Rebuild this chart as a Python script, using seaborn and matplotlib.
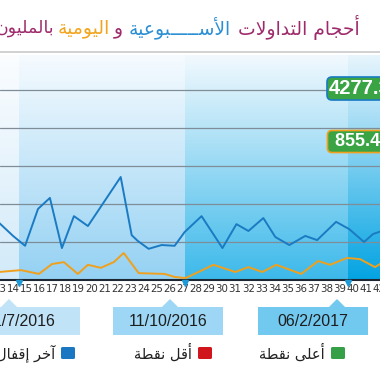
import numpy as np
import pandas as pd
import matplotlib
matplotlib.use("Agg")
import matplotlib.pyplot as plt
from matplotlib.patches import Polygon, FancyBboxPatch
from matplotlib.colors import to_rgb
import seaborn as sns

# week numbers on the x axis
week_ticks = list(range(13, 43))

# weekly trading volume (blue) and daily volume (orange), in week units on x
blue_weeks = [12.85, 14.0, 14.92, 15.91, 16.82, 17.74, 18.66, 19.73, 22.24, 23.08,
              23.54, 24.38, 25.37, 26.37, 27.13, 28.43, 30.03, 31.10, 32.02, 33.16,
              34.08, 35.15, 36.37, 37.28, 38.73, 39.73, 40.87, 41.56, 42.24]
blue_vals = [1530, 1160, 900, 1870, 2160, 840, 1680, 1420, 2710, 1180,
             1030, 820, 920, 900, 1260, 1680, 840, 1470, 1290, 1630,
             1130, 920, 1160, 1050, 1530, 1340, 1000, 1210, 1290]

orange_weeks = [12.9, 14.61, 15.98, 16.98, 17.89, 18.96, 19.73, 20.72, 21.71, 22.47,
                23.62, 25.60, 26.37, 27.21, 29.34, 31.02, 32.02, 33.08, 34.15, 36.06,
                37.36, 38.27, 39.57, 40.56, 41.71, 42.24]
orange_vals = [210, 260, 160, 420, 470, 160, 400, 320, 470, 710,
               180, 160, 80, 50, 400, 210, 340, 210, 400, 160,
               500, 400, 580, 550, 340, 450]

quarter_edges = [13.0, 14.46, 27.13, 39.65, 42.3]
date_labels = ['11/7/2016', '11/10/2016', '06/2/2017']
last_values = ['4277.3', ' 855.41']
legend_labels = ['آخر إقفال', 'أقل نقطة', 'أعلى نقطة']
title_parts = ['أحجام التداولات', 'الأســـــبوعية', 'و', 'اليومية', 'بالمليون']

# --- minimal arabic shaping (matplotlib has no complex text layout) ---
AR_FORMS = {
    '\u0622': ('\uFE81', '\uFE82', None, None),
    '\u0623': ('\uFE83', '\uFE84', None, None),
    '\u0625': ('\uFE87', '\uFE88', None, None),
    '\u0627': ('\uFE8D', '\uFE8E', None, None),
    '\u0628': ('\uFE8F', '\uFE90', '\uFE91', '\uFE92'),
    '\u0629': ('\uFE93', '\uFE94', None, None),
    '\u062A': ('\uFE95', '\uFE96', '\uFE97', '\uFE98'),
    '\u062C': ('\uFE9D', '\uFE9E', '\uFE9F', '\uFEA0'),
    '\u062D': ('\uFEA1', '\uFEA2', '\uFEA3', '\uFEA4'),
    '\u062E': ('\uFEA5', '\uFEA6', '\uFEA7', '\uFEA8'),
    '\u062F': ('\uFEA9', '\uFEAA', None, None),
    '\u0631': ('\uFEAD', '\uFEAE', None, None),
    '\u0633': ('\uFEB1', '\uFEB2', '\uFEB3', '\uFEB4'),
    '\u0637': ('\uFEC1', '\uFEC2', '\uFEC3', '\uFEC4'),
    '\u0639': ('\uFEC9', '\uFECA', '\uFECB', '\uFECC'),
    '\u0641': ('\uFED1', '\uFED2', '\uFED3', '\uFED4'),
    '\u0642': ('\uFED5', '\uFED6', '\uFED7', '\uFED8'),
    '\u0644': ('\uFEDD', '\uFEDE', '\uFEDF', '\uFEE0'),
    '\u0645': ('\uFEE1', '\uFEE2', '\uFEE3', '\uFEE4'),
    '\u0646': ('\uFEE5', '\uFEE6', '\uFEE7', '\uFEE8'),
    '\u0648': ('\uFEED', '\uFEEE', None, None),
    '\u0649': ('\uFEEF', '\uFEF0', None, None),
    '\u064A': ('\uFEF1', '\uFEF2', '\uFEF3', '\uFEF4'),
    '\u0640': ('\u0640', '\u0640', '\u0640', '\u0640'),
}
LAM_ALEF = {'\u0622': ('\uFEF5', '\uFEF6'), '\u0623': ('\uFEF7', '\uFEF8'),
            '\u0625': ('\uFEF9', '\uFEFA'), '\u0627': ('\uFEFB', '\uFEFC')}


def shape_ar(text):
    chars = []
    i = 0
    while i < len(text):
        if text[i] == '\u0644' and i + 1 < len(text) and text[i + 1] in LAM_ALEF:
            chars.append(('LA', text[i + 1]))
            i += 2
        else:
            chars.append(text[i])
            i += 1

    def joins_next(c):
        return not isinstance(c, tuple) and c in AR_FORMS and AR_FORMS[c][2] is not None

    def is_ar(c):
        return isinstance(c, tuple) or c in AR_FORMS

    out = []
    for k, c in enumerate(chars):
        prev = chars[k - 1] if k > 0 else None
        nxt = chars[k + 1] if k + 1 < len(chars) else None
        jp = prev is not None and joins_next(prev)
        if isinstance(c, tuple):
            iso, fin = LAM_ALEF[c[1]]
            out.append(fin if jp else iso)
            continue
        if c not in AR_FORMS:
            out.append(c)
            continue
        iso, fin, ini, med = AR_FORMS[c]
        jn = nxt is not None and is_ar(nxt) and ini is not None
        if jp and jn:
            out.append(med)
        elif jp:
            out.append(fin)
        elif jn:
            out.append(ini)
        else:
            out.append(iso)
    return ''.join(reversed(out))


sns.set_style("white")
plt.rcParams['font.family'] = ['DejaVu Sans']

W, H = 380, 372
fig = plt.figure(figsize=(3.8, 3.72), dpi=100)


def fx(x):
    return x / W


def fy(y):
    return 1 - y / H


ymax = 5920
ax = fig.add_axes([0, fy(280), 1, (280 - 55) / H])
ax.set_xlim(13.084, 42.092)
ax.set_ylim(0, ymax)

# vertical-gradient quarter bands
band_cols = [('#fbfdff', '#d2eaf9'), ('#f6fbff', '#94d1f3'),
             ('#f2f9fe', '#3cb9ea'), ('#e8f5fd', '#02a3e2')]
t = np.linspace(0, 1, 256)[:, None]
for (x0, x1), (ctop, cbot) in zip(zip(quarter_edges[:-1], quarter_edges[1:]), band_cols):
    top, bot = np.array(to_rgb(ctop)), np.array(to_rgb(cbot))
    img = (bot[None, :] * (1 - t) + top[None, :] * t)[:, None, :]
    ax.imshow(img, extent=[x0, x1, 0, ymax], origin='lower', aspect='auto',
              interpolation='bilinear', zorder=0)

for g in range(1000, 6000, 1000):
    ax.axhline(g, color='#7f8d98', lw=0.9, zorder=1)

df_blue = pd.DataFrame({'week': blue_weeks, 'value': blue_vals})
df_orange = pd.DataFrame({'week': orange_weeks, 'value': orange_vals})
sns.lineplot(data=df_blue, x='week', y='value', color='#1a7bc3', lw=1.4,
             estimator=None, ax=ax, zorder=3)
sns.lineplot(data=df_orange, x='week', y='value', color='#f0a01c', lw=1.4,
             estimator=None, ax=ax, zorder=3)

ax.set_xlabel('')
ax.set_ylabel('')
ax.set_yticks([])
ax.set_xticks(week_ticks)
ax.set_xticklabels([str(w) for w in week_ticks], fontsize=7.4, color='#333333',
                   family=['Liberation Sans Narrow', 'DejaVu Sans'])
ax.tick_params(axis='x', length=0, pad=3)
for s in ['top', 'left', 'right']:
    ax.spines[s].set_visible(False)
ax.spines['bottom'].set_color('#1d2733')
ax.spines['bottom'].set_linewidth(1.5)

# small markers at quarter edges below the axis
for e in quarter_edges[1:-1]:
    ax.plot(e, -0.015, marker='v', ms=4, color='#1e9ad6', transform=ax.get_xaxis_transform(),
            clip_on=False, zorder=5)

# last-value badges
badge_font = ['Liberation Sans', 'DejaVu Sans']
fig.text(fx(329), fy(88.5), last_values[0], color='white', fontsize=14.5, fontweight='bold',
         va='center', ha='left', family=badge_font,
         bbox=dict(boxstyle='round,pad=0.1,rounding_size=0.25', fc='#3aa445', ec='#1a7bc3', lw=1.2))
fig.text(fx(330), fy(141.5), last_values[1], color='white', fontsize=13, fontweight='bold',
         va='center', ha='left', family=badge_font,
         bbox=dict(boxstyle='round,pad=0.14,rounding_size=0.25', fc='#3aa445', ec='#f0a01c', lw=1.2))

# title with coloured parts (right-to-left)
fig.add_artist(plt.Line2D([0, 1], [fy(52), fy(52)], color='#c9c9c9', lw=1.2))
title_cols = ['#9e2a6b', '#2b8fd4', '#9e2a6b', '#f2a51f', '#9e2a6b']
title_x = [238, 231, 123, 110, 54]
title_ha = ['left', 'right', 'right', 'right', 'right']
title_sizes = [13.5, 13.5, 13.5, 13.5, 12.5]
for part, col, xr, ha, fs in zip(title_parts, title_cols, title_x, title_ha, title_sizes):
    fig.text(fx(xr), fy(28), shape_ar(part), color=col, fontsize=fs,
             ha=ha, va='center')

# date call-out boxes
box_cols = ['#c0e3f8', '#9dd7f5', '#72c9f0']
box_spans = [(-30, 80, 9), (113, 223, 170), (258, 368, 337)]
for (x0, x1, xa), col, lab in zip(box_spans, box_cols, date_labels):
    pts = [(x0, 307), (xa - 8, 307), (xa, 299), (xa + 8, 307), (x1, 307), (x1, 335), (x0, 335)]
    fig.add_artist(Polygon([(fx(a), fy(b)) for a, b in pts], closed=True, fc=col, ec='none',
                           transform=fig.transFigure))
    fig.text(fx((x0 + x1) / 2 - 4 if x0 < 0 else (x0 + x1) / 2), fy(321), lab, fontsize=11.5,
             color='#1e1e1e', ha='center', va='center', family=['Liberation Sans', 'DejaVu Sans'])

# legend row
leg_cols = ['#1a78c2', '#d0161c', '#36a048']
leg_sq = [68, 205, 338]
for lab, col, xs in zip(legend_labels, leg_cols, leg_sq):
    fig.add_artist(FancyBboxPatch((fx(xs - 7), fy(359)), fx(14), 12 / H,
                                  boxstyle='round,pad=0,rounding_size=0.004',
                                  fc=col, ec='none', transform=fig.transFigure))
    fig.text(fx(xs - 13), fy(353), shape_ar(lab), fontsize=10.5, color='#222222',
             ha='right', va='center')

fig.savefig('out.png', dpi=100)
